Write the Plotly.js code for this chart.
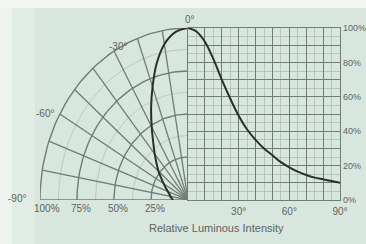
<!DOCTYPE html>
<html>
<head>
<meta charset="utf-8">
<script src="https://cdn.plot.ly/plotly-3.0.1.min.js"></script>
<style>html,body{margin:0;padding:0;background:#d8e7dd;}#chart{width:366px;height:244px;}</style>
</head>
<body>
<div id="chart"></div>
<script>
// ---- data ----
const angles = [0, 5, 10, 15, 20, 25, 30, 35, 40, 45, 50, 55, 60, 65, 70, 75, 80, 85, 90];
const intensity = [100, 98, 92, 82, 70, 59, 49, 41, 35, 30, 26, 22, 19, 16.5, 14.5, 13, 12, 11, 10];
const radialRings = [25, 50, 75, 100];
const radialLabels = ['25%', '50%', '75%', '100%'];
const spokeAngles = [0, 10, 20, 30, 40, 50, 60, 70, 80, 90];
const angleTickVals = [0, 10, 20, 30, 40, 50, 60, 70, 80, 90];
const angleTickText = ['', '', '', '30°', '', '', '60°', '', '', '90°'];
const pctTickVals = [0, 10, 20, 30, 40, 50, 60, 70, 80, 90, 100];
const pctTickText = ['0%', '', '20%', '', '40%', '', '60%', '', '80%', '', '100%'];
const polarAngleLabels = ['0°', '-30°', '-60°', '-90°'];

const rad = d => d * Math.PI / 180;
const dark = '#2b2d2b';
const gridDark = '#6f7d74';
const gridLight = '#aebcb3';
const txt = '#5e635f';
const font = {family: 'Liberation Sans, Arial, sans-serif', size: 10, color: txt};

const traces = [];
const arcSteps = [];
for (let d = 0; d <= 90; d += 2) arcSteps.push(d);
radialRings.forEach(r => {
  traces.push({type: 'scatter', mode: 'lines', xaxis: 'x', yaxis: 'y', hoverinfo: 'skip',
    x: arcSteps.map(d => -r * Math.sin(rad(d))), y: arcSteps.map(d => r * Math.cos(rad(d))),
    line: {color: gridDark, width: 1.4}, cliponaxis: false});
});
[12.5, 37.5, 62.5, 87.5].forEach(r => {
  traces.push({type: 'scatter', mode: 'lines', xaxis: 'x', yaxis: 'y', hoverinfo: 'skip',
    x: arcSteps.map(d => -r * Math.sin(rad(d))), y: arcSteps.map(d => r * Math.cos(rad(d))),
    line: {color: gridLight, width: 0.7}, cliponaxis: false});
});
spokeAngles.forEach(a => {
  traces.push({type: 'scatter', mode: 'lines', xaxis: 'x', yaxis: 'y', hoverinfo: 'skip',
    x: [0, -100 * Math.sin(rad(a))], y: [0, 100 * Math.cos(rad(a))],
    line: {color: gridDark, width: 1.3}, cliponaxis: false});
});
traces.push({type: 'scatter', mode: 'lines', xaxis: 'x', yaxis: 'y', hoverinfo: 'skip',
  x: angles.map((a, i) => -intensity[i] * Math.sin(rad(a))),
  y: angles.map((a, i) => intensity[i] * Math.cos(rad(a))),
  line: {color: dark, width: 2, shape: 'spline'}, cliponaxis: false});
traces.push({type: 'scatter', mode: 'lines', xaxis: 'x2', yaxis: 'y2', hoverinfo: 'skip',
  x: angles, y: intensity, line: {color: dark, width: 2, shape: 'spline'}, cliponaxis: false});

// label positions (paper coords)
const labelPos = [[0.5, 1.047], [0.26, 0.895], [0.0167, 0.505], [-0.0767, 0.008]];
const annotations = polarAngleLabels.map((t, i) => ({xref: 'paper', yref: 'paper',
  x: labelPos[i][0], y: labelPos[i][1], text: t, showarrow: false, font: font,
  xanchor: 'center', yanchor: 'middle'}));
radialRings.forEach((r, i) => {
  annotations.push({xref: 'x', yref: 'paper', x: -r + (r === 100 ? 5 : 3), y: -0.05, text: radialLabels[i],
    showarrow: false, font: font, xanchor: 'center', yanchor: 'middle'});
});
annotations.push({xref: 'paper', yref: 'paper', x: 0.587, y: -0.165, text: 'Relative Luminous Intensity',
  showarrow: false, font: {family: font.family, size: 11, color: txt}, xanchor: 'center', yanchor: 'middle'});

const layout = {
  width: 366, height: 244,
  margin: {l: 40, r: 26, t: 28, b: 44},
  paper_bgcolor: '#d8e7dd', plot_bgcolor: 'rgba(0,0,0,0)',
  showlegend: false, font: font,
  xaxis: {domain: [0, 0.4933], range: [-100, 0], anchor: 'y', showgrid: false, zeroline: false,
    showline: false, showticklabels: false, ticks: '', fixedrange: true},
  yaxis: {domain: [0, 1], range: [0, 100], anchor: 'x', visible: false, fixedrange: true},
  xaxis2: {domain: [0.4933, 1], range: [0, 90], anchor: 'y2', tickmode: 'array',
    tickvals: angleTickVals, ticktext: angleTickText, showgrid: true, gridcolor: gridDark, gridwidth: 1,
    minor: {dtick: 5, tick0: 0, showgrid: true, gridcolor: gridLight, gridwidth: 0.8},
    zeroline: false, showline: true, mirror: true, linecolor: gridDark, linewidth: 1.3,
    ticks: '', tickfont: font, ticklabelstandoff: 2},
  yaxis2: {domain: [0, 1], range: [0, 100], anchor: 'x2', side: 'right', tickmode: 'array',
    tickvals: pctTickVals, ticktext: pctTickText, showgrid: true, gridcolor: gridDark, gridwidth: 1,
    minor: {dtick: 5, tick0: 0, showgrid: true, gridcolor: gridLight, gridwidth: 0.8},
    zeroline: false, showline: true, mirror: true, linecolor: gridDark, linewidth: 1.3,
    ticks: '', tickfont: {family: font.family, size: 9, color: txt}, ticklabelstandoff: 0},
  shapes: [
    {type: 'rect', xref: 'paper', yref: 'paper', x0: -0.2, x1: 1.2, y0: 1.116, y1: 1.2, fillcolor: '#f3f6f3', line: {width: 0}, layer: 'below'},
    {type: 'rect', xref: 'paper', yref: 'paper', x0: -0.2, x1: -0.0933, y0: -0.3, y1: 1.116, fillcolor: '#eef3ef', line: {width: 0}, layer: 'below'},
    {type: 'rect', xref: 'paper', yref: 'paper', x0: -0.0933, x1: -0.017, y0: -0.3, y1: 1.116, fillcolor: '#e0ece4', line: {width: 0}, layer: 'below'}
  ],
  annotations: annotations
};

Plotly.newPlot('chart', traces, layout, {staticPlot: true, displayModeBar: false});
</script>
</body>
</html>
